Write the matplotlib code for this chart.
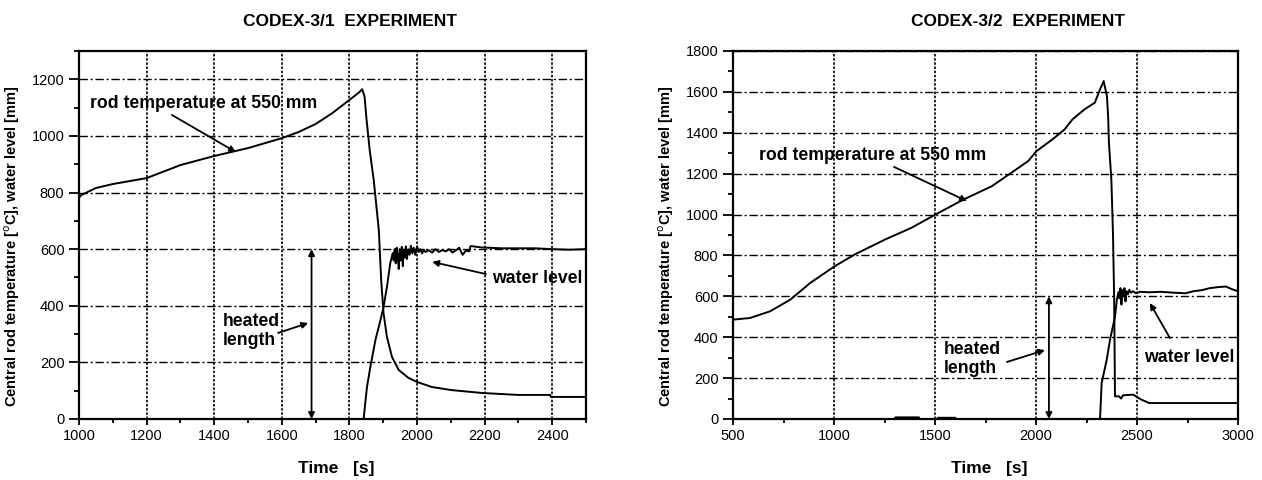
import matplotlib
matplotlib.use("Agg")
import matplotlib.pyplot as plt
from matplotlib.ticker import MultipleLocator

plt.rcParams['font.family'] = ['Liberation Sans', 'DejaVu Sans']

# CODEX-3/1 : rod temperature at 550 mm
t1_time = [1000, 1005, 1050, 1100, 1200, 1300, 1400, 1450, 1500, 1600, 1650, 1700,
           1750, 1800, 1830, 1838, 1845, 1850, 1860, 1872, 1887, 1894, 1901, 1911,
           1926, 1946, 1975, 2000, 2044, 2103, 2192, 2300, 2394, 2396, 2500]
t1_temp = [780, 790, 816, 830, 851, 897, 929, 943, 957, 992, 1014, 1042,
           1081, 1127, 1155, 1165, 1138, 1067, 950, 844, 668, 491, 374, 290,
           219, 173, 145, 131, 113, 102, 92, 85, 85, 78, 78]

# CODEX-3/1 : water level
w1_time = [1000, 1842, 1852, 1862, 1877, 1892, 1901, 1911, 1921, 1928,
           1931, 1934, 1937, 1940, 1943, 1946, 1949, 1952, 1955, 1958, 1961,
           1964, 1967, 1970, 1974, 1978, 1982, 1986, 1990, 1995, 2000, 2005,
           2010, 2015, 2020, 2025, 2035, 2045, 2055, 2065, 2075, 2085, 2095,
           2105, 2115, 2125, 2135, 2145, 2155, 2158, 2192, 2250, 2350, 2400,
           2450, 2500]
w1_level = [0, 0, 113, 184, 279, 350, 396, 466, 551, 586,
            560, 600, 550, 605, 575, 530, 600, 560, 608, 540, 598,
            570, 610, 565, 600, 580, 612, 585, 605, 580, 610, 590,
            600, 585, 598, 590, 596, 588, 600, 590, 597, 592, 600,
            588, 596, 605, 580, 595, 592, 611, 606, 603, 603, 600,
            598, 600]

# CODEX-3/2 : rod temperature at 550 mm
t2_time = [500, 584, 684, 784, 883, 1003, 1103, 1253, 1383, 1502, 1642, 1782,
           1902, 1962, 2002, 2082, 2142, 2181, 2241, 2291, 2317, 2335, 2351,
           2357, 2361, 2373, 2381, 2387, 2391, 2411, 2421, 2431, 2481, 2521,
           2561, 3000]
t2_temp = [486, 494, 527, 584, 666, 747, 805, 878, 935, 1000, 1074, 1139,
           1221, 1262, 1310, 1368, 1417, 1466, 1515, 1547, 1612, 1653, 1580,
           1482, 1351, 1172, 911, 584, 111, 111, 100, 116, 119, 95,
           78, 78]

# CODEX-3/2 : water level
w2_time = [500, 1300, 1305, 1420, 1425, 1510, 1515, 1600, 1605, 2317,
           2325, 2350, 2366, 2391, 2400, 2408, 2413, 2418, 2423, 2428, 2433,
           2438, 2443, 2448, 2455, 2462, 2470, 2480, 2495, 2515, 2560, 2620,
           2680, 2740, 2780, 2820, 2860, 2900, 2940, 2970, 3000]
w2_level = [0, 0, 8, 8, 0, 0, 6, 6, 0, 0,
            176, 289, 386, 499, 582, 621, 590, 640, 560, 630, 600,
            640, 575, 625, 610, 632, 618, 625, 615, 622, 620, 622,
            618, 615, 625, 630, 640, 645, 648, 635, 625]

fig = plt.figure(figsize=(12.62, 4.8), dpi=100)
W, H = 1262.0, 480.0
ax1 = fig.add_axes([79 / W, 1 - 419 / H, 507 / W, 368 / H])
ax2 = fig.add_axes([733 / W, 1 - 419 / H, 505 / W, 368 / H])

ylabel = r'Central rod temperature [$^{\mathrm{o}}$C], water level [mm]'


def style_axes(ax, xlim, ylim, xmaj, xmin, ymaj, ymin):
    ax.set_xlim(*xlim)
    ax.set_ylim(*ylim)
    ax.xaxis.set_major_locator(MultipleLocator(xmaj))
    ax.xaxis.set_minor_locator(MultipleLocator(xmin))
    ax.yaxis.set_major_locator(MultipleLocator(ymaj))
    ax.yaxis.set_minor_locator(MultipleLocator(ymin))
    ax.tick_params(axis='both', which='both', direction='out', width=1.3, labelsize=10.5)
    ax.tick_params(axis='y', which='major', length=7)
    ax.tick_params(axis='y', which='minor', length=3.5)
    ax.tick_params(axis='x', which='major', length=4)
    ax.tick_params(axis='x', which='minor', length=3)
    for s in ax.spines.values():
        s.set_linewidth(1.6)
        s.set_zorder(5)
    ax.grid(True, axis='y', which='major', color='black', lw=1.0,
            linestyle=(0, (6, 2, 1.5, 2)))
    ax.grid(True, axis='x', which='major', color='black', lw=1.2,
            linestyle=(0, (1.5, 1)))
    ax.set_axisbelow(True)
    ax.set_ylabel(ylabel, fontsize=10.5, fontweight='bold')
    ax.yaxis.set_label_coords(-0.112, 0.471)
    ax.set_xlabel('Time   [s]', fontsize=12.5, fontweight='bold')
    ax.xaxis.set_label_coords(0.507, -0.115)


style_axes(ax1, (1000, 2500), (0, 1300), 200, 100, 200, 100)
style_axes(ax2, (500, 3000), (0, 1800), 500, 250, 200, 100)

ax1.plot(t1_time, t1_temp, color='black', lw=1.4)
ax1.plot(w1_time, w1_level, color='black', lw=1.4)
ax2.plot(t2_time, t2_temp, color='black', lw=1.4)
ax2.plot(w2_time, w2_level, color='black', lw=1.4)

arrow = dict(arrowstyle='-|>', color='black', lw=1.3, mutation_scale=9,
             shrinkA=0, shrinkB=0)
dbl = dict(arrowstyle='<|-|>', color='black', lw=1.3, mutation_scale=9,
           shrinkA=0, shrinkB=0)
tkw = dict(fontsize=12.7, fontweight='bold')

# left panel annotations
ax1.text(1033, 1113, 'rod temperature at 550 mm', va='center', ha='left', **tkw)
ax1.annotate('', xy=(1464, 943), xytext=(1275, 1074), arrowprops=arrow)
ax1.text(2222, 498, 'water level', va='center', ha='left', **tkw)
ax1.annotate('', xy=(2045, 555), xytext=(2204, 512), arrowprops=arrow)
ax1.text(1426, 311, 'heated\nlength', va='center', ha='left', linespacing=1.15, **tkw)
ax1.annotate('', xy=(1678, 339), xytext=(1589, 304), arrowprops=arrow)
ax1.annotate('', xy=(1688, 0), xytext=(1688, 600), arrowprops=dbl)

# right panel annotations
ax2.text(629, 1291, 'rod temperature at 550 mm', va='center', ha='left', **tkw)
ax2.annotate('', xy=(1658, 1066), xytext=(1297, 1233), arrowprops=arrow)
ax2.text(2536, 303, 'water level', va='center', ha='left', **tkw)
ax2.annotate('', xy=(2564, 567), xytext=(2663, 396), arrowprops=arrow)
ax2.text(1545, 293, 'heated\nlength', va='center', ha='left', linespacing=1.15, **tkw)
ax2.annotate('', xy=(2044, 337), xytext=(1856, 279), arrowprops=arrow)
ax2.annotate('', xy=(2064, 0), xytext=(2064, 600), arrowprops=dbl)

fig.text(350 / W, 1 - 21 / H, 'CODEX-3/1  EXPERIMENT', ha='center', va='center',
         fontsize=12.5, fontweight='bold')
fig.text(1018 / W, 1 - 21 / H, 'CODEX-3/2  EXPERIMENT', ha='center', va='center',
         fontsize=12.5, fontweight='bold')

fig.savefig('out.png', dpi=100, facecolor='white')
